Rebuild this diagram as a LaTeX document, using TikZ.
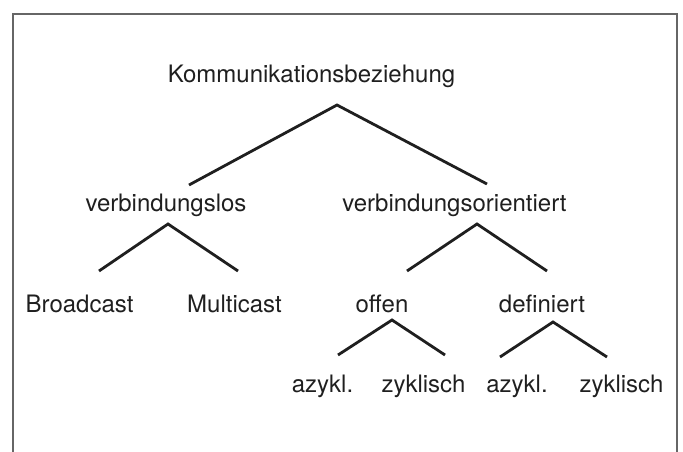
\documentclass[tikz,border=0pt]{standalone}
\usepackage{fontspec}
\setmainfont{TeX Gyre Heros}
\begin{document}
\begin{tikzpicture}[x=1pt,y=-1pt,
  lbl/.style={anchor=base,inner sep=0pt,text=black!88,font=\fontsize{24}{28}\selectfont},
  branch/.style={line width=2.8pt,draw=black!88,line cap=butt,line join=miter},
  frameline/.style={line width=1.3pt,draw=black!60}]
\useasboundingbox (0,0) rectangle (683,452);
\draw[frameline] (13,452) -- (13,14) -- (677,14) -- (677,452);
% labels
\node[lbl] (root) at (311.5,82) {Kommunikationsbeziehung};
\node[lbl] (vl) at (166,211) {verbindungslos};
\node[lbl] (vo) at (454.5,211) {verbindungsorientiert};
\node[lbl] (bc) at (79.5,312) {Broadcast};
\node[lbl] (mc) at (234.5,312) {Multicast};
\node[lbl] (of) at (382,312) {offen};
\node[lbl] (df) at (542,312) {definiert};
\node[lbl] (oa) at (322.5,392) {azykl.};
\node[lbl] (oz) at (423.5,392) {zyklisch};
\node[lbl] (da) at (517,392) {azykl.};
\node[lbl] (dz) at (621.5,392) {zyklisch};
% branch points
\coordinate (rootT) at (337,105);
\coordinate (rootL) at (189,185);
\coordinate (rootR) at (487,184);
\coordinate (vlT) at (168,224);
\coordinate (vlL) at (99,271);
\coordinate (vlR) at (238,271);
\coordinate (voT) at (477,224);
\coordinate (voL) at (407,271);
\coordinate (voR) at (547,271);
\coordinate (ofT) at (392,320);
\coordinate (ofL) at (338,355);
\coordinate (ofR) at (445,355);
\coordinate (dfT) at (553,322);
\coordinate (dfL) at (500,357);
\coordinate (dfR) at (607,357);
\draw[branch] (rootL) -- (rootT) -- (rootR);
\draw[branch] (vlL) -- (vlT) -- (vlR);
\draw[branch] (voL) -- (voT) -- (voR);
\draw[branch] (ofL) -- (ofT) -- (ofR);
\draw[branch] (dfL) -- (dfT) -- (dfR);
\end{tikzpicture}
\end{document}
